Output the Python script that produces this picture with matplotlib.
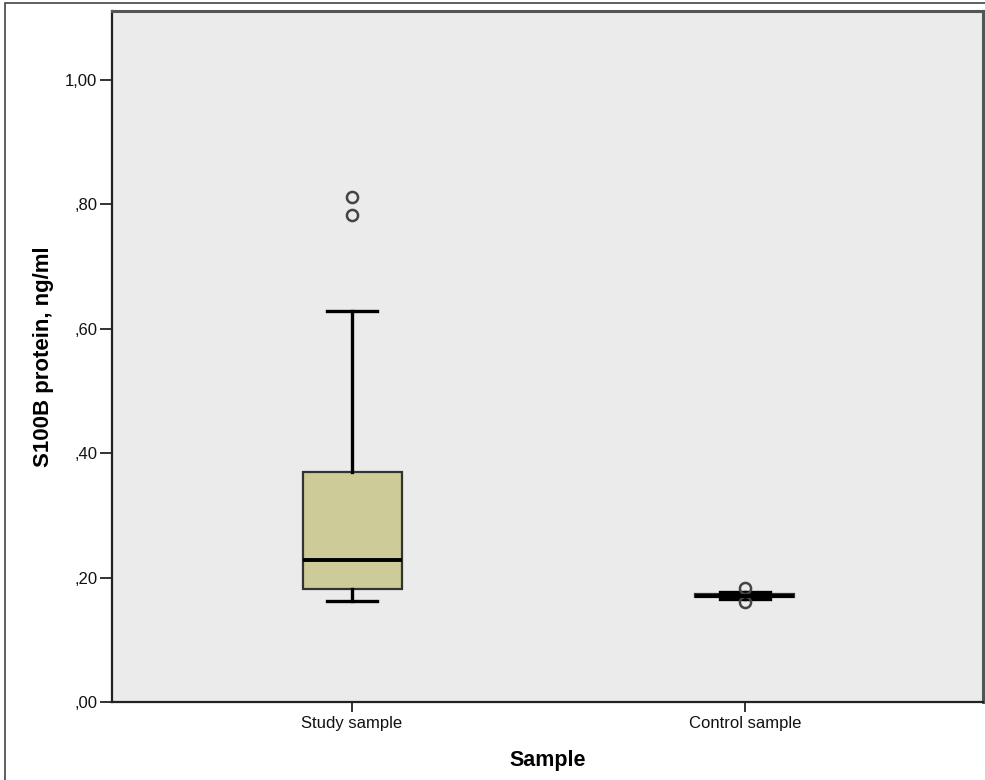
import matplotlib.pyplot as plt
from matplotlib.patches import Rectangle
from matplotlib.ticker import FuncFormatter

plt.rcParams['font.family'] = ['Liberation Sans', 'DejaVu Sans']

# box summary per group (ng/ml)
groups = ["Study sample", "Control sample"]
whisker_low = [0.162, 0.166]
q1 = [0.182, 0.169]
median = [0.229, 0.171]
q3 = [0.369, 0.173]
whisker_high = [0.629, 0.177]
outliers = [[0.812, 0.783], [0.183, 0.161]]

stats = []
for i, name in enumerate(groups):
    stats.append(dict(label=name, whislo=whisker_low[i], q1=q1[i], med=median[i],
                      q3=q3[i], whishi=whisker_high[i], fliers=outliers[i]))

fig = plt.figure(figsize=(9.85, 7.8), dpi=100)
ax = fig.add_axes([112/985, 78/780, 871/985, 691/780])
ax.set_facecolor("#ebebeb")

ax.bxp(stats, positions=[1, 2], widths=0.252, patch_artist=True,
       boxprops=dict(facecolor="#cdcc98", edgecolor="#333333", linewidth=1.6),
       medianprops=dict(color="black", linewidth=2.8),
       whiskerprops=dict(color="black", linewidth=2.4),
       capprops=dict(color="black", linewidth=2.4),
       capwidths=0.127,
       flierprops=dict(marker="o", markersize=8, markerfacecolor="none",
                       markeredgecolor="#444444", markeredgewidth=1.8))

ax.set_xlim(0.389, 2.606)
ax.set_ylim(0, 1.111)
ax.set_yticks([0, 0.2, 0.4, 0.6, 0.8, 1.0])
ax.yaxis.set_major_formatter(FuncFormatter(
    lambda v, p: (f"{v:.2f}".replace(".", ",")).lstrip("0")))
ax.tick_params(axis="y", length=9, width=1.3, pad=1.5, labelsize=12,
               color="#222222", labelcolor="#111111")
ax.tick_params(axis="x", length=7, width=1.3, pad=3, labelsize=12,
               color="#222222", labelcolor="#111111")

for side in ["left", "bottom"]:
    ax.spines[side].set_linewidth(1.6)
    ax.spines[side].set_color("#222222")
for side in ["top", "right"]:
    ax.spines[side].set_linewidth(2.2)
    ax.spines[side].set_color("#555555")

ax.set_ylabel("S100B protein, ng/ml", fontsize=16, fontweight="bold", labelpad=8)
ax.set_xlabel("Sample", fontsize=15.5, fontweight="bold", labelpad=14)

# thin frame round the whole picture
fig.patches.append(Rectangle((5/985, -0.05), 1.1, 1.05 - 3/780,
                             transform=fig.transFigure, fill=False,
                             edgecolor="#444444", linewidth=1.2))

fig.savefig("out.png", dpi=100)
